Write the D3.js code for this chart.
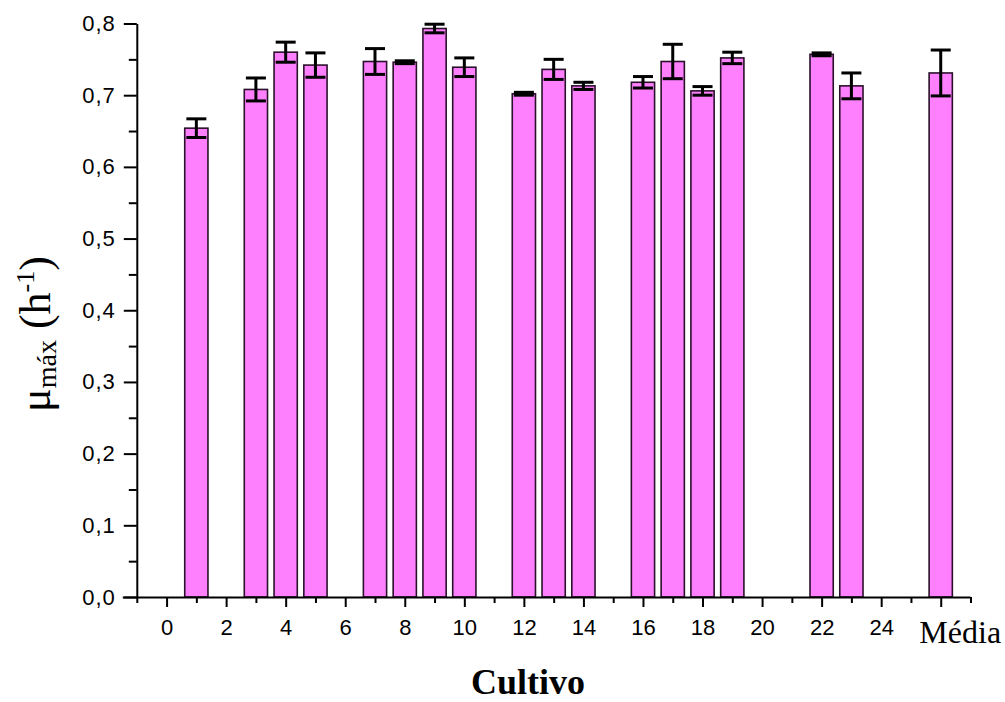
<!DOCTYPE html>
<meta charset="utf-8">
<script src="https://d3js.org/d3.v7.min.js"></script>
<style>
    body { margin: 0; background: white; }
</style>

<body>
    <div id="chart"></div>
</body>
<script>

    // cultivo number (Média drawn at slot 26), mean and error
    var cultivo = [1, 3, 4, 5, 7, 8, 9, 10, 12, 13, 14, 16, 17, 18, 19, 22, 23, 26];
    var muMax = [0.654, 0.708, 0.760, 0.742, 0.747, 0.746, 0.793, 0.739, 0.702, 0.736, 0.713, 0.718, 0.747, 0.706, 0.752, 0.757, 0.713, 0.731];
    var erro = [0.013, 0.016, 0.014, 0.017, 0.018, 0.002, 0.006, 0.013, 0.002, 0.014, 0.005, 0.008, 0.024, 0.006, 0.008, 0.002, 0.018, 0.032];

    var xTicks = [0, 2, 4, 6, 8, 10, 12, 14, 16, 18, 20, 22, 24, 26];
    var xTickLabels = ["0", "2", "4", "6", "8", "10", "12", "14", "16", "18", "20", "22", "24", "Média"];
    var yTicks = [0, 0.1, 0.2, 0.3, 0.4, 0.5, 0.6, 0.7, 0.8];

    var width = 1005,
        height = 702;

    var svg = d3.select("#chart")
        .append("svg")
        .attr("width", width)
        .attr("height", height)

    var x = d3.scaleLinear().domain([-1, 27]).range([136.8, 970.5])
    var y = d3.scaleLinear().domain([0, 0.8]).range([597, 23.5])

    var data = cultivo.map(function (c, i) {
        return { x: c, v: muMax[i], e: erro[i] }
    })

    var bw = x(1.39) - x(0.61);

    // bars
    svg.selectAll("rect.bar")
        .data(data)
        .enter()
        .append("rect")
        .attr("class", "bar")
        .attr("x", function (d) { return x(d.x) - bw / 2 })
        .attr("y", function (d) { return y(d.v) })
        .attr("width", bw)
        .attr("height", function (d) { return y(0) - y(d.v) })
        .style("fill", "#ff80ff")
        .style("stroke", "#2a102a")
        .style("stroke-width", 1.6)

    // error bars
    var capW = 10;
    var eb = svg.selectAll("g.err")
        .data(data)
        .enter()
        .append("g")
        .attr("class", "err")
        .style("stroke", "#000")
        .style("stroke-width", 3)
    eb.append("line")
        .attr("x1", function (d) { return x(d.x) })
        .attr("x2", function (d) { return x(d.x) })
        .attr("y1", function (d) { return y(d.v - d.e) })
        .attr("y2", function (d) { return y(d.v + d.e) })
    eb.append("line")
        .attr("x1", function (d) { return x(d.x) - capW })
        .attr("x2", function (d) { return x(d.x) + capW })
        .attr("y1", function (d) { return y(d.v + d.e) })
        .attr("y2", function (d) { return y(d.v + d.e) })
    eb.append("line")
        .attr("x1", function (d) { return x(d.x) - capW })
        .attr("x2", function (d) { return x(d.x) + capW })
        .attr("y1", function (d) { return y(d.v - d.e) })
        .attr("y2", function (d) { return y(d.v - d.e) })

    // x axis
    var xMinor = d3.range(-1, 28, 2);
    svg.append("g")
        .attr("transform", "translate(0," + y(0) + ")")
        .call(d3.axisBottom(x).tickValues(xMinor).tickSize(6).tickFormat("").tickSizeOuter(0))
        .call(function (g) { g.select(".domain").remove() })
        .selectAll("line").style("stroke-width", 2)
    var xAxis = svg.append("g")
        .attr("transform", "translate(0," + y(0) + ")")
        .call(d3.axisBottom(x).tickValues(xTicks).tickSize(10).tickSizeOuter(0)
            .tickFormat(function (d, i) { return xTickLabels[i] }))
    xAxis.select(".domain").style("stroke-width", 2)
        .attr("d", "M" + (x(-1) - 14) + ",0.5H" + x(27))
    xAxis.selectAll("line").style("stroke-width", 2)
    xAxis.selectAll("text")
        .attr("dy", "0")
        .attr("y", 38)
        .style("font-family", "'Liberation Sans', Arial, sans-serif")
        .style("font-size", "22px")
        .style("fill", "#000")
    xAxis.selectAll("text")
        .filter(function (d) { return d === 26 })
        .attr("y", 46)
        .attr("dx", 19)
        .style("font-family", "'Liberation Serif', 'Times New Roman', serif")
        .style("font-size", "32px")

    // y axis
    var yMinor = d3.range(0.05, 0.8, 0.1);
    svg.append("g")
        .attr("transform", "translate(" + x(-1) + ",0)")
        .call(d3.axisLeft(y).tickValues(yMinor).tickSize(8).tickFormat("").tickSizeOuter(0))
        .call(function (g) { g.select(".domain").remove() })
        .selectAll("line").style("stroke-width", 2)
    var yAxis = svg.append("g")
        .attr("transform", "translate(" + x(-1) + ",0)")
        .call(d3.axisLeft(y).tickValues(yTicks).tickSize(13).tickSizeOuter(0)
            .tickFormat(function (d) { return d3.format(".1f")(d).replace(".", ",") }))
    yAxis.select(".domain").style("stroke-width", 2)
    yAxis.selectAll("line").style("stroke-width", 2)
    yAxis.selectAll("text")
        .attr("x", -21)
        .style("font-family", "'Liberation Sans', Arial, sans-serif")
        .style("font-size", "22px")
        .style("letter-spacing", "1px")
        .style("fill", "#000")

    // axis titles
    svg.append("text")
        .attr("x", 528)
        .attr("y", 694)
        .attr("text-anchor", "middle")
        .style("font-family", "'Liberation Serif', 'Times New Roman', serif")
        .style("font-weight", "bold")
        .style("font-size", "36px")
        .text("Cultivo")

    var yt = svg.append("text")
        .attr("transform", "translate(50,334) rotate(-90)")
        .attr("text-anchor", "middle")
        .style("font-family", "'Liberation Serif', 'Times New Roman', serif")
        .style("font-size", "44px")
    yt.append("tspan").text("μ")
    yt.append("tspan").attr("dy", 6).style("font-size", "28px").text("máx")
    yt.append("tspan").attr("dy", -6).text(" (h")
    yt.append("tspan").attr("dy", -16).style("font-size", "26px").text("-1")
    yt.append("tspan").attr("dy", 16).text(")")

</script>
